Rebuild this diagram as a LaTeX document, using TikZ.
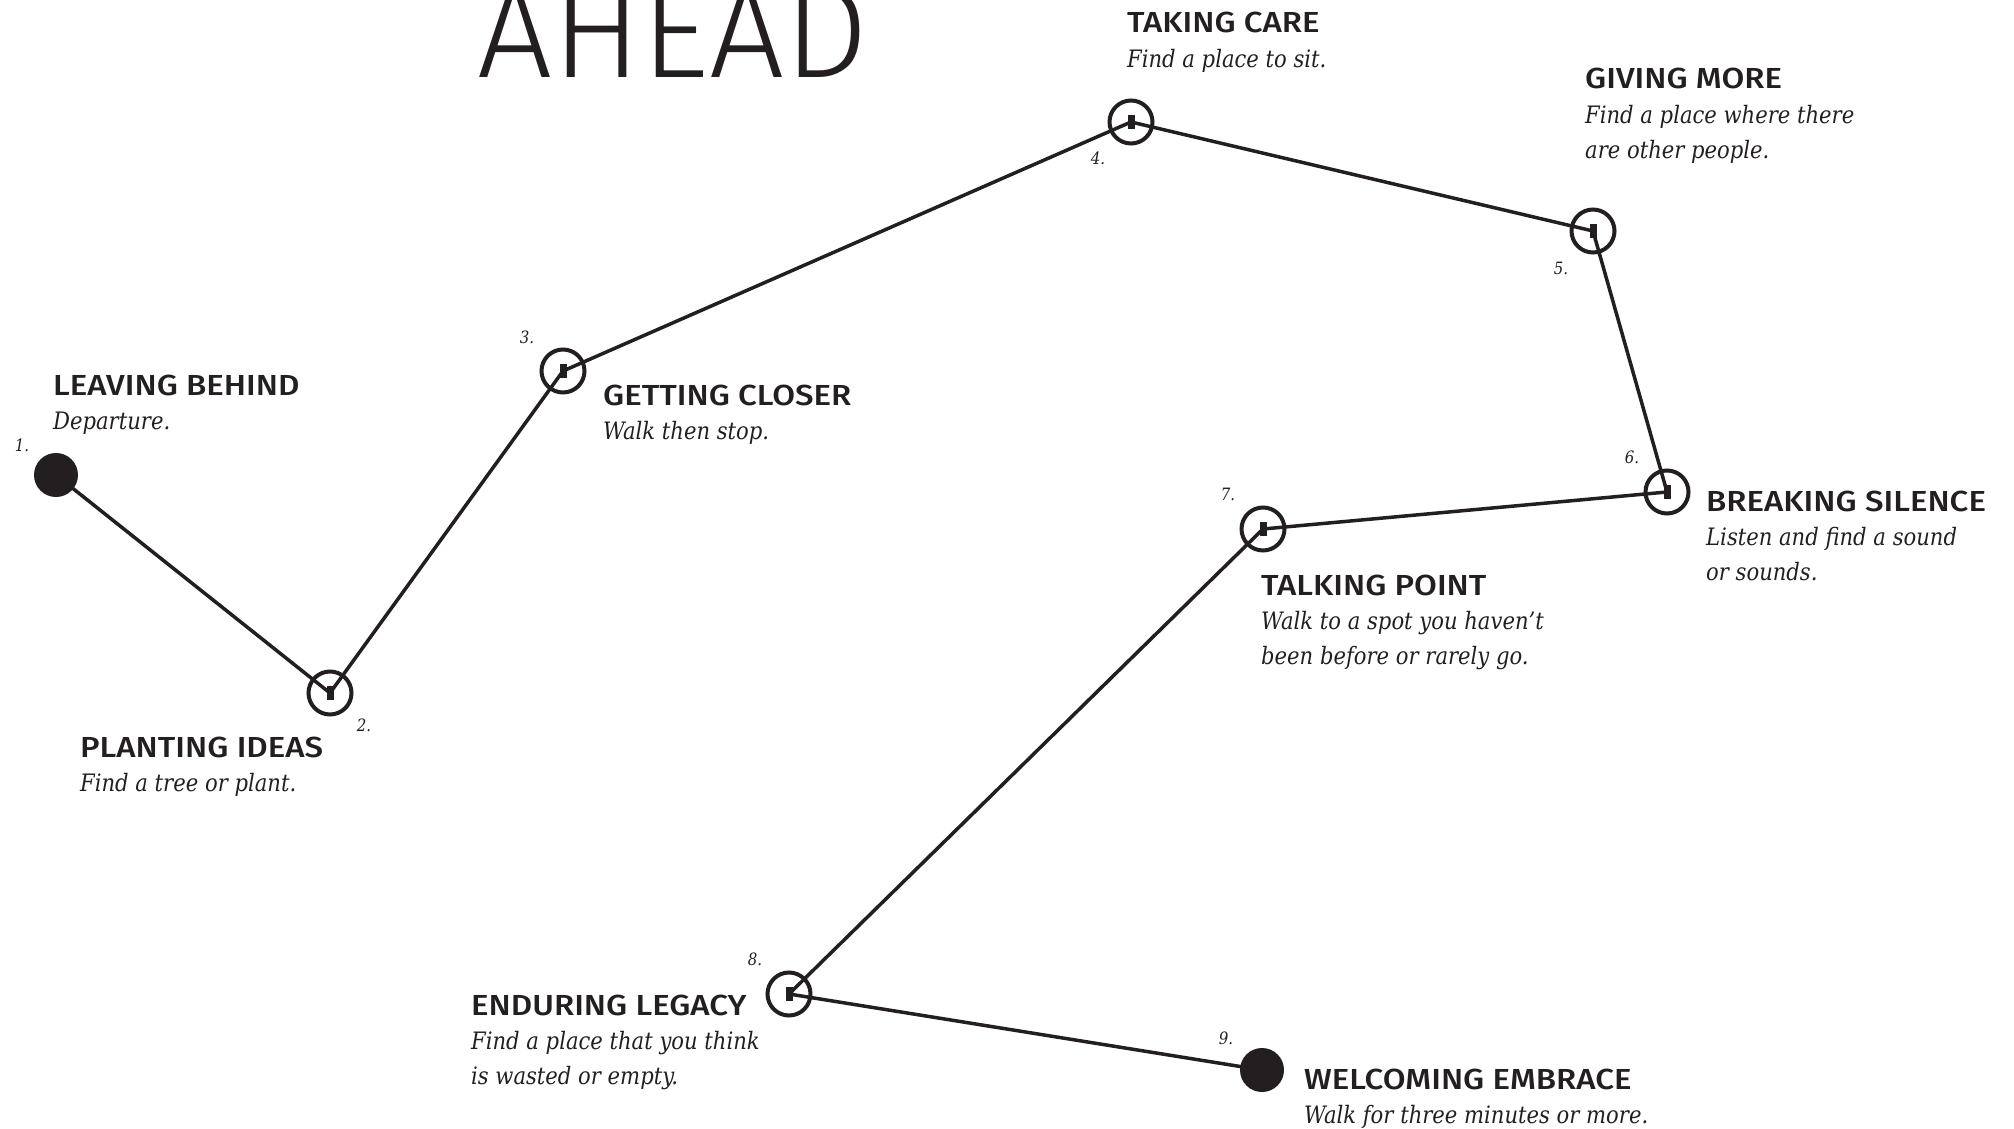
\documentclass[tikz,border=0pt]{standalone}
\usepackage{fontspec}
\setmainfont{DejaVu Serif}
\newfontfamily\headfont{Fira Sans Medium}[FakeStretch=1.14]
\newfontfamily\titlefont{Fira Sans Light}
\newfontfamily\notefont{DejaVu Serif}[FakeStretch=0.88]
\usepackage{tikz}
\usetikzlibrary{positioning}
\definecolor{ink}{HTML}{231F20}
\tikzset{
    x=1pt,y=-1pt,
    walk/.style={draw=ink,line width=3.5pt,line join=round},
    stop/.style={circle,draw=ink,line width=4pt,minimum size=43pt,inner sep=0pt},
    ends/.style={circle,fill=ink,minimum size=44pt,inner sep=0pt},
    peg/.style={fill=ink,minimum width=7pt,minimum height=14pt,inner sep=0pt},
    num/.style={font=\notefont\itshape\fontsize{17}{17}\selectfont,text=ink,inner sep=0pt},
    head/.style={font=\headfont\fontsize{29}{29}\selectfont,text=ink,anchor=base west,inner sep=0pt},
    desc/.style={font=\notefont\itshape\fontsize{24}{35}\selectfont,text=ink,align=left,inner sep=0pt}
}

\begin{document}
\begin{tikzpicture}
    \useasboundingbox (0,0) rectangle (2014,1129);

    % title, cut by the top edge
    \node[font=\titlefont\fontsize{133}{133}\selectfont,text=ink,anchor=base west,inner sep=0pt] (title) at (477,78) {AHEAD};

    % stops
    \node[ends] (p1) at (56,475) {};
    \node[stop] (p2) at (330,693) {};
    \node[stop] (p3) at (563,371) {};
    \node[stop] (p4) at (1131,122) {};
    \node[stop] (p5) at (1593,231) {};
    \node[stop] (p6) at (1667,492) {};
    \node[stop] (p7) at (1263,529) {};
    \node[stop] (p8) at (789,994) {};
    \node[ends] (p9) at (1262,1070) {};

    \draw[walk] (p1.center) -- (p2.center) -- (p3.center) -- (p4.center) -- (p5.center)
        -- (p6.center) -- (p7.center) -- (p8.center) -- (p9.center);

    \node[peg] (g2) at (p2) {};
    \node[peg] (g3) at (p3) {};
    \node[peg] (g4) at (p4) {};
    \node[peg] (g5) at (p5) {};
    \node[peg] (g6) at (p6) {};
    \node[peg] (g7) at (p7) {};
    \node[peg] (g8) at (p8) {};

    % numbers
    \node[num] (n1) at (22,445) {1.};
    \node[num] (n2) at (364,725) {2.};
    \node[num] (n3) at (527,337) {3.};
    \node[num] (n4) at (1098,158) {4.};
    \node[num] (n5) at (1561,268) {5.};
    \node[num] (n6) at (1632,457) {6.};
    \node[num] (n7) at (1228,494) {7.};
    \node[num] (n8) at (755,959) {8.};
    \node[num] (n9) at (1226,1038) {9.};

    % labels
    \node[head] (h1) at (53,395) {LEAVING BEHIND};
    \node[desc,below right=9.5pt and 0pt of h1.base west] (d1) {\strut Departure.};
    \node[head] (h2) at (80,757) {PLANTING IDEAS};
    \node[desc,below right=9.5pt and 0pt of h2.base west] (d2) {\strut Find a tree or plant.};
    \node[head] (h3) at (603,405) {GETTING CLOSER};
    \node[desc,below right=9.5pt and 0pt of h3.base west] (d3) {\strut Walk then stop.};
    \node[head] (h4) at (1127,33) {TAKING CARE};
    \node[desc,below right=9.5pt and 0pt of h4.base west] (d4) {\strut Find a place to sit.};
    \node[head] (h5) at (1585,89) {GIVING MORE};
    \node[desc,below right=9.5pt and 0pt of h5.base west] (d5) {\strut Find a place where there\\are other people.};
    \node[head] (h6) at (1706,511) {BREAKING SILENCE};
    \node[desc,below right=9.5pt and 0pt of h6.base west] (d6) {\strut Listen and find a sound\\or sounds.};
    \node[head] (h7) at (1261,595) {TALKING POINT};
    \node[desc,below right=9.5pt and 0pt of h7.base west] (d7) {\strut Walk to a spot you haven’t\\been before or rarely go.};
    \node[head] (h8) at (471,1015) {ENDURING LEGACY};
    \node[desc,below right=9.5pt and 0pt of h8.base west] (d8) {\strut Find a place that you think\\is wasted or empty.};
    \node[head] (h9) at (1304,1089) {WELCOMING EMBRACE};
    \node[desc,below right=9.5pt and 0pt of h9.base west] (d9) {\strut Walk for three minutes or more.};
\end{tikzpicture}
\end{document}
